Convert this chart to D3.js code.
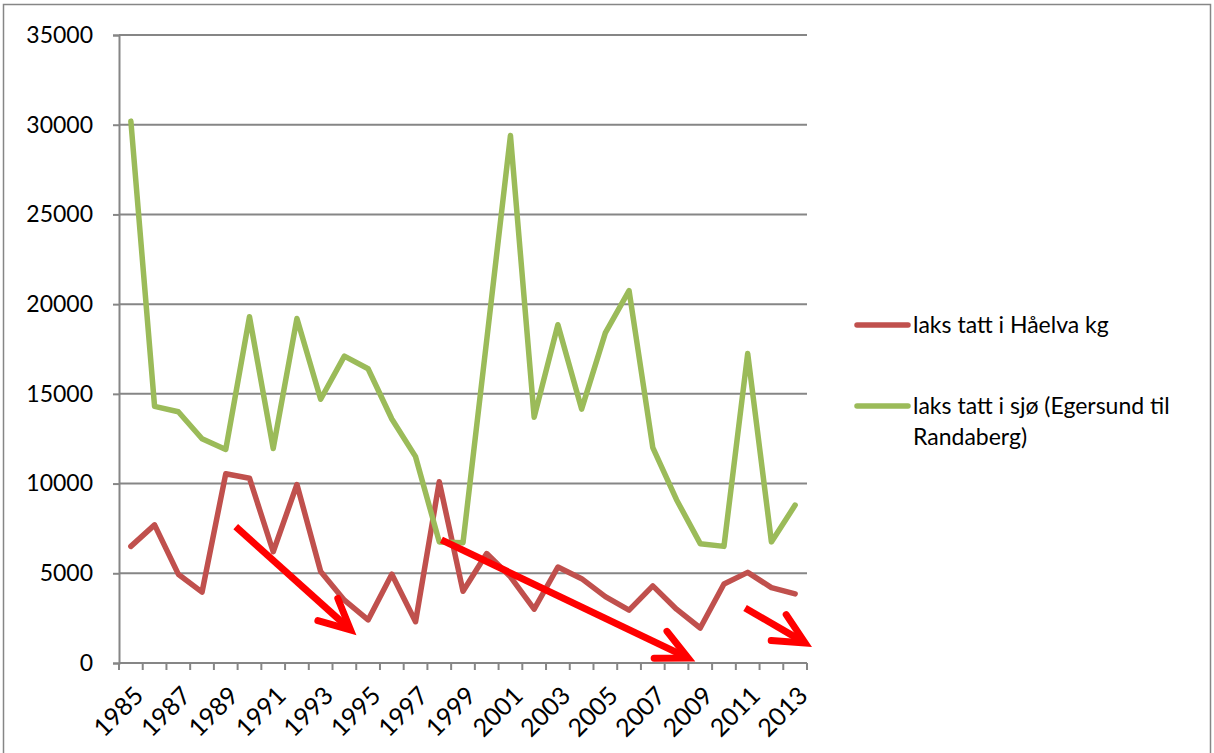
<!DOCTYPE html>
<html>
<head>
<meta charset="utf-8">
<script src="https://cdn.jsdelivr.net/npm/d3@7"></script>
<style>
  html, body { margin: 0; padding: 0; background: #fff; }
  svg { display: block; }
  text { font-family: Lato, "Open Sans", sans-serif; fill: #000; }
</style>
</head>
<body>
<svg id="chart" width="1214" height="753"></svg>
<script>
// ---- data ----
const years = d3.range(1985, 2014);
const haelvaKg = [6500, 7700, 4950, 3950, 10550, 10300, 6200, 9950, 5100, 3500,
                  2400, 4950, 2300, 10100, 4000, 6100, 4800, 3000, 5350, 4700,
                  3700, 2950, 4300, 3000, 1950, 4400, 5050, 4200, 3850];
const sjoKg = [30200, 14300, 14000, 12500, 11900, 19300, 11950, 19200, 14700, 17100,
               16400, 13600, 11500, 6750, 6700, 18000, 29400, 13700, 18850, 14150,
               18400, 20750, 12000, 9100, 6650, 6500, 17250, 6750, 8800];
const seriesNames = ["laks tatt i Håelva kg", "laks tatt i sjø (Egersund til Randaberg)"];
const yTicks = [0, 5000, 10000, 15000, 20000, 25000, 30000, 35000];
// trend arrows: [startYear, startValue, endYear, endValue]
const arrows = [
  [1989.42, 7600, 1994.26, 1840],
  [1998.09, 6860, 2008.49, 280],
  [2010.89, 3070, 2013.42, 1120]
];

// ---- layout ----
const svg = d3.select("#chart");
const pLeft = 119, pRight = 807, pTop = 35, pBottom = 663;
const gridColor = "#868686";
const red = "#C0504D", green = "#9BBB59";

const x = d3.scaleBand().domain(years).range([pLeft, pRight]).padding(0);
const xc = d => x(d) + x.bandwidth() / 2;
const xLin = d3.scaleLinear().domain([1985, 2013]).range([xc(1985), xc(2013)]);
const y = d3.scaleLinear().domain([0, 35000]).range([pBottom, pTop]);

// outer frame
svg.append("rect").attr("x", 3.5).attr("y", 4.5).attr("width", 1207).attr("height", 760)
  .attr("fill", "none").attr("stroke", gridColor).attr("stroke-width", 1.5);

// gridlines
svg.append("g").selectAll("line").data(yTicks.filter(v => v > 0)).join("line")
  .attr("x1", pLeft).attr("x2", pRight)
  .attr("y1", d => y(d)).attr("y2", d => y(d))
  .attr("stroke", gridColor).attr("stroke-width", 2);

// y axis
const yAxis = svg.append("g").attr("transform", `translate(${pLeft},0)`)
  .call(d3.axisLeft(y).tickValues(yTicks).tickSize(6).tickPadding(20).tickFormat(d3.format("d")));
yAxis.select(".domain").attr("stroke", gridColor).attr("stroke-width", 2);
yAxis.selectAll(".tick line").attr("stroke", gridColor).attr("stroke-width", 2);
yAxis.selectAll("text").style("font-size", "23px").style("font-family", "Lato, 'Open Sans', sans-serif").attr("fill", "#000");

// x axis (ticks between categories)
const xAxisG = svg.append("g").attr("transform", `translate(0,${pBottom})`);
xAxisG.append("line").attr("x1", pLeft).attr("x2", pRight).attr("y1", 0).attr("y2", 0)
  .attr("stroke", gridColor).attr("stroke-width", 2);
const boundaries = years.map(d => x(d)).concat([pRight]);
xAxisG.selectAll("line.tk").data(boundaries).join("line").attr("class", "tk")
  .attr("x1", d => d).attr("x2", d => d).attr("y1", 0).attr("y2", 7)
  .attr("stroke", gridColor).attr("stroke-width", 2);
xAxisG.selectAll("text").data(years.filter((d, i) => i % 2 === 0)).join("text")
  .attr("transform", d => `translate(${xc(d) + 8},${28}) rotate(-45)`)
  .attr("text-anchor", "end").attr("dy", "0.35em")
  .style("font-size", "25px")
  .text(d => d);

// lines
const line = d3.line().x((d, i) => xc(years[i])).y(d => y(d));
svg.append("path").datum(haelvaKg).attr("d", line)
  .attr("fill", "none").attr("stroke", red).attr("stroke-width", 5.5)
  .attr("stroke-linejoin", "round").attr("stroke-linecap", "round");
svg.append("path").datum(sjoKg).attr("d", line)
  .attr("fill", "none").attr("stroke", green).attr("stroke-width", 5.5)
  .attr("stroke-linejoin", "round").attr("stroke-linecap", "round");

// arrows
const ag = svg.append("g");
arrows.forEach(a => {
  const x0 = xLin(a[0]), y0 = y(a[1]), x1 = xLin(a[2]), y1 = y(a[3]);
  const ang = Math.atan2(y1 - y0, x1 - x0);
  const back = ang + Math.PI, spread = 26 * Math.PI / 180, len = 34;
  const w1 = [x1 + len * Math.cos(back - spread), y1 + len * Math.sin(back - spread)];
  const w2 = [x1 + len * Math.cos(back + spread), y1 + len * Math.sin(back + spread)];
  ag.append("line").attr("x1", x0).attr("y1", y0)
    .attr("x2", x1 - 6 * Math.cos(ang)).attr("y2", y1 - 6 * Math.sin(ang))
    .attr("stroke", "#FF0000").attr("stroke-width", 7);
  ag.append("path").attr("d", `M${w1[0]},${w1[1]}L${x1},${y1}L${w2[0]},${w2[1]}`)
    .attr("fill", "none").attr("stroke", "#FF0000").attr("stroke-width", 7)
    .attr("stroke-linejoin", "miter").attr("stroke-linecap", "round");
});

// legend
const lg = svg.append("g");
const legendItems = [
  { color: red, lines: ["laks tatt i Håelva kg"], y: 325 },
  { color: green, lines: ["laks tatt i sjø (Egersund til", "Randaberg)"], y: 406 }
];
legendItems.forEach((it, i) => {
  lg.append("line").attr("x1", 857).attr("x2", 908).attr("y1", it.y).attr("y2", it.y)
    .attr("stroke", it.color).attr("stroke-width", 5.5).attr("stroke-linecap", "round");
  it.lines.forEach((t, j) => {
    lg.append("text").attr("x", 913).attr("y", it.y + j * 31).attr("dy", "0.35em")
      .style("font-size", "23px").text(t);
  });
});
</script>
</body>
</html>
